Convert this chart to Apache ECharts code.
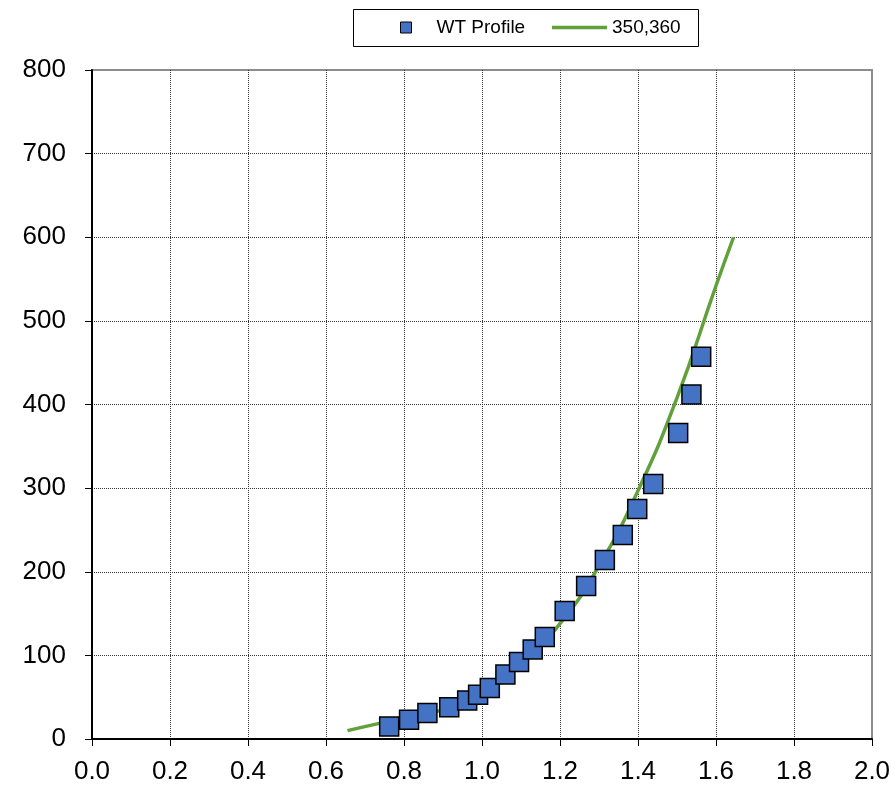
<!DOCTYPE html>
<html>
<head>
<meta charset="utf-8">
<script src="https://cdn.jsdelivr.net/npm/echarts@6/dist/echarts.min.js"></script>
<style>
  html, body { margin: 0; padding: 0; background: #fff; }
  #chart { width: 896px; height: 787px; }
</style>
</head>
<body>
<div id="chart"></div>
<script>
// Measured wind-tunnel profile points
const profileX = [0.762, 0.813, 0.860, 0.916, 0.962, 0.990, 1.020, 1.060, 1.095, 1.130,
                  1.161, 1.212, 1.267, 1.315, 1.361, 1.398, 1.439, 1.503, 1.537, 1.562];
const profileY = [15, 23, 31, 38, 46, 53, 61, 77, 92, 107,
                  122, 153, 183, 214, 244, 275, 305, 366, 412, 457];

// Reference curve "350,360"
const curveX = [0.655, 0.74, 0.885, 1.0, 1.1, 1.2, 1.3, 1.4, 1.5, 1.6, 1.645];
const curveY = [10, 19, 33, 55, 90, 138, 207, 297, 408, 542, 600];

const xTicks = { min: 0, max: 2.0, step: 0.2 };
const yTicks = { min: 0, max: 800, step: 100 };

const seriesNames = ['WT Profile', '350,360'];

const chart = echarts.init(document.getElementById('chart'), null, { renderer: 'canvas' });

const font = 'Arial, "Liberation Sans", sans-serif';
const green = '#62A03C';
const blue = '#4472C4';
const legendText = { fontSize: 19, color: '#000', fontFamily: font };

chart.setOption({
  animation: false,
  backgroundColor: '#ffffff',
  textStyle: { fontFamily: font },
  // framed legend box
  graphic: [{
    type: 'rect',
    left: 353,
    top: 9,
    shape: { width: 345, height: 37 },
    style: { fill: '#fff', stroke: '#000', lineWidth: 1 },
    z: 0
  }],
  legend: [
    {
      left: 400,
      top: 18,
      padding: 0,
      itemWidth: 11,
      itemHeight: 11,
      textStyle: Object.assign({ padding: [0, 0, 0, 20] }, legendText),
      data: [{
        name: seriesNames[0],
        icon: 'rect',
        itemStyle: { color: blue, borderColor: '#000', borderWidth: 1 }
      }],
      z: 5
    },
    {
      left: 552,
      top: 18,
      padding: 0,
      itemWidth: 55,
      itemHeight: 3.5,
      textStyle: Object.assign({ padding: [0, 0, 0, 0] }, legendText),
      data: [{
        name: seriesNames[1],
        icon: 'rect',
        itemStyle: { color: green, borderWidth: 0 }
      }],
      z: 5
    }
  ],
  grid: {
    left: 92,
    top: 70,
    right: 24,
    bottom: 48,
    show: true,
    borderColor: '#8c8c8c',
    borderWidth: 2,
    backgroundColor: '#fff'
  },
  xAxis: {
    type: 'value',
    min: xTicks.min,
    max: xTicks.max,
    interval: xTicks.step,
    axisLine: { show: true, onZero: false, lineStyle: { color: '#000', width: 2 } },
    axisTick: { show: true, inside: false, length: 7, lineStyle: { color: '#000', width: 1 } },
    axisLabel: {
      fontSize: 26,
      color: '#000',
      margin: 20,
      formatter: v => v.toFixed(1)
    },
    splitLine: {
      show: true,
      showMinLine: false,
      showMaxLine: false,
      lineStyle: { color: '#333', width: 1, type: 'dotted' }
    }
  },
  yAxis: {
    type: 'value',
    min: yTicks.min,
    max: yTicks.max,
    interval: yTicks.step,
    axisLine: { show: true, onZero: false, lineStyle: { color: '#000', width: 2 } },
    axisTick: { show: true, inside: false, length: 7, lineStyle: { color: '#000', width: 1 } },
    axisLabel: { fontSize: 26, color: '#000', margin: 26 },
    splitLine: {
      show: true,
      showMinLine: false,
      showMaxLine: false,
      lineStyle: { color: '#333', width: 1, type: 'dotted' }
    }
  },
  series: [
    {
      name: seriesNames[1],
      type: 'line',
      data: curveX.map((x, i) => [x, curveY[i]]),
      smooth: true,
      symbol: 'none',
      lineStyle: { color: green, width: 3.5 },
      itemStyle: { color: green },
      z: 2
    },
    {
      name: seriesNames[0],
      type: 'scatter',
      data: profileX.map((x, i) => [x, profileY[i]]),
      symbol: 'rect',
      symbolSize: 19,
      itemStyle: { color: blue, borderColor: '#000', borderWidth: 1.5, opacity: 1 },
      z: 3
    }
  ]
});
</script>
</body>
</html>
